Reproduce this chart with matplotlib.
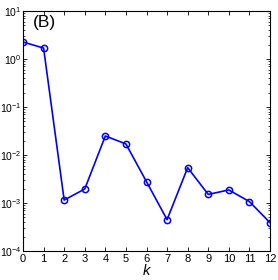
import matplotlib
matplotlib.use('Agg')
import matplotlib.pyplot as plt
from matplotlib.ticker import LogLocator, NullFormatter

# data
k_values = [0, 1, 2, 3, 4, 5, 6, 7, 8, 9, 10, 11, 12]
amplitudes = [2.26, 1.69, 1.15e-3, 1.96e-3, 2.49e-2, 1.7e-2, 2.78e-3,
              4.5e-4, 5.45e-3, 1.51e-3, 1.87e-3, 1.07e-3, 3.9e-4]
panel_label = '(B)'

plt.rcParams['font.family'] = ['Liberation Sans', 'DejaVu Sans']
plt.rcParams['mathtext.fontset'] = 'custom'
plt.rcParams['mathtext.rm'] = 'Liberation Sans'
plt.rcParams['mathtext.it'] = 'Liberation Sans:italic'

fig = plt.figure(figsize=(2.78, 2.80), dpi=100)
ax = fig.add_axes([23 / 278, 1 - 251 / 280, 247 / 278, 240 / 280])

ax.plot(k_values, amplitudes, color='blue', linewidth=1.2, marker='o',
        markersize=4.5, markerfacecolor='none', markeredgecolor='blue',
        markeredgewidth=1.1)

ax.set_yscale('log')
ax.set_xlim(0, 12)
ax.set_ylim(1e-4, 1e1)
ax.set_xticks(k_values)
ax.yaxis.set_major_locator(LogLocator(base=10, numticks=10))
ax.yaxis.set_minor_locator(LogLocator(base=10, subs=range(2, 10), numticks=10))
ax.yaxis.set_minor_formatter(NullFormatter())

ax.tick_params(which='both', direction='in', top=True, right=True)
ax.tick_params(axis='x', labelsize=8, pad=2)
ax.tick_params(axis='y', labelsize=7.5, pad=1)
ax.tick_params(which='major', length=3, width=0.6)
ax.tick_params(which='minor', length=1.5, width=0.5)
for sp in ax.spines.values():
    sp.set_linewidth(0.8)

ax.set_xlabel('k', fontsize=10.5, style='italic', labelpad=0)
ax.text(0.04, 0.985, panel_label, transform=ax.transAxes, fontsize=12.5,
        va='top', ha='left')

fig.savefig('out.png', dpi=100)
